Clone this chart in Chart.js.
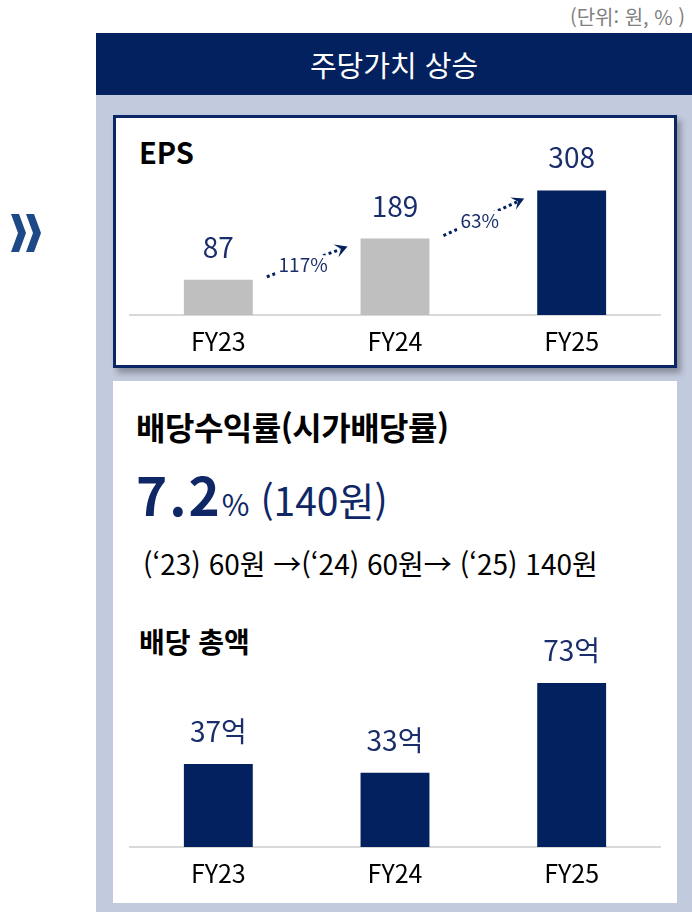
<html lang="ko">
<head>
<meta charset="UTF-8">
<title>주당가치 상승</title>
<script src="https://cdn.jsdelivr.net/npm/chart.js@4.4.1/dist/chart.umd.min.js"></script>
<style>
    body { margin: 0; width: 692px; height: 912px; overflow: hidden; background: #fff; position: relative;
           font-family: "Noto Sans CJK KR", "Noto Sans", sans-serif; }
    .abs { position: absolute; white-space: nowrap; line-height: 1; }
    .unit { right: 7px; top: 7px; font-size: 20px; color: #7f7f7f; }
    .panel { left: 96px; top: 33px; width: 600px; height: 880px; background: #c2cadd; }
    .header { left: 96px; top: 33px; width: 596px; height: 62px; background: #03215e; }
    .header span { position: absolute; left: 0; right: 0; top: 17px; text-align: center; color: #fff; font-size: 29px; }
    .box1 { left: 113px; top: 115px; width: 564px; height: 253px; box-sizing: border-box; background: #fff;
            border: 3px solid #0b2565; box-shadow: 4px 5px 6px rgba(0,0,0,0.3); }
    .box2 { left: 113px; top: 381px; width: 564px; height: 522px; background: #fff; }
    .title { font-weight: bold; color: #000; }
    .navy { color: #0f2765; }
    canvas { position: absolute; }
</style>
</head>
<body>

<div class="abs unit">(단위: 원, % )</div>
<svg class="abs" style="left:0;top:200px" width="60" height="70">
    <polygon points="11,14 19,14 26,33 19,52 11,52 18,33" fill="#1d4a86"/>
    <polygon points="26,14 34,14 41,33 34,52 26,52 33,33" fill="#1d4a86"/>
</svg>

<div class="abs panel"></div>
<div class="abs header"><span>주당가치 상승</span></div>

<div class="abs box1"></div>
<div class="abs title" style="left:139px;top:137px;font-size:29px">EPS</div>

<div class="abs box2"></div>
<div class="abs title" style="left:136px;top:410px;font-size:32px;letter-spacing:-0.5px">배당수익률(시가배당률)</div>
<div class="abs navy" style="left:136px;top:467px">
    <span style="font-size:53px;font-weight:bold;letter-spacing:2px">7.2</span><span style="font-size:30px">%</span><span style="font-size:39px"> (140원)</span>
</div>
<div class="abs" style="left:143px;top:549px;font-size:28px;color:#000">(‘23) 60원 →(‘24) 60원→ (‘25) 140원</div>
<div class="abs title" style="left:139px;top:627px;font-size:28px">배당 총액</div>

<canvas id="epsChart" width="564" height="240" style="left:113px;top:125px"></canvas>
<canvas id="divChart" width="564" height="300" style="left:113px;top:600px"></canvas>

<script>
const years = ['FY23', 'FY24', 'FY25'];
const epsValues = [87, 189, 308];
const epsLabels = ['87', '189', '308'];
const epsGrowth = ['117%', '63%'];
const dividendValues = [37, 33, 73];
const dividendLabels = ['37억', '33억', '73억'];

const NAVY = '#03215e';
const LABEL_NAVY = '#1a2e6c';
const GRAY = '#bfbfbf';

Chart.defaults.font.family = '"Noto Sans CJK KR", "Noto Sans", sans-serif';

// 막대 위 값 표시
function valueLabels(labels) {
    return {
        id: 'valueLabels',
        afterDatasetsDraw(chart) {
            const ctx = chart.ctx;
            ctx.save();
            ctx.font = '28px "Noto Sans CJK KR"';
            ctx.fillStyle = LABEL_NAVY;
            ctx.textAlign = 'center';
            ctx.textBaseline = 'alphabetic';
            chart.getDatasetMeta(0).data.forEach((bar, i) => {
                ctx.fillText(labels[i], bar.x, bar.y - 22);
            });
            ctx.restore();
        }
    };
}

// 성장률 점선 화살표
const growthArrows = {
    id: 'growthArrows',
    afterDatasetsDraw(chart) {
        const ctx = chart.ctx;
        const bars = chart.getDatasetMeta(0).data;
        ctx.save();
        for (let i = 0; i < bars.length - 1; i++) {
            const a = bars[i], b = bars[i + 1];
            const x1 = a.x + a.width / 2 + 14, y1 = a.y - 3;
            const x2 = b.x - b.width / 2 - 13, y2 = b.y + 8;
            const ang = Math.atan2(y2 - y1, x2 - x1);
            const dx = Math.cos(ang), dy = Math.sin(ang);

            ctx.strokeStyle = NAVY;
            ctx.lineWidth = 3;
            ctx.setLineDash([3, 3]);
            ctx.beginPath();
            ctx.moveTo(x1, y1);
            ctx.lineTo(x2 - dx * 8, y2 - dy * 8);
            ctx.stroke();
            ctx.setLineDash([]);

            // 화살촉
            const L = 14;
            const w1 = ang + Math.PI - 0.5, w2 = ang + Math.PI + 0.5;
            ctx.fillStyle = NAVY;
            ctx.beginPath();
            ctx.moveTo(x2, y2);
            ctx.lineTo(x2 + Math.cos(w1) * L, y2 + Math.sin(w1) * L);
            ctx.lineTo(x2 - dx * L * 0.5, y2 - dy * L * 0.5);
            ctx.lineTo(x2 + Math.cos(w2) * L, y2 + Math.sin(w2) * L);
            ctx.closePath();
            ctx.fill();

            // 텍스트
            const t = 0.45;
            const tx = x1 + (x2 - x1) * t, ty = y1 + (y2 - y1) * t + 2;
            ctx.font = '19px "Noto Sans CJK KR"';
            const tw = ctx.measureText(epsGrowth[i]).width;
            ctx.fillStyle = '#fff';
            ctx.fillRect(tx - tw / 2 - 3, ty - 10, tw + 6, 20);
            ctx.fillStyle = LABEL_NAVY;
            ctx.textAlign = 'center';
            ctx.textBaseline = 'middle';
            ctx.fillText(epsGrowth[i], tx, ty);
        }
        ctx.restore();
    }
};

function makeChart(id, values, colors, yMax, axisHeight, padTop, plugins) {
    return new Chart(document.getElementById(id), {
        type: 'bar',
        data: {
            labels: years,
            datasets: [{
                data: values,
                backgroundColor: colors,
                borderWidth: 0,
                barPercentage: 0.39,
                categoryPercentage: 1
            }]
        },
        options: {
            responsive: false,
            animation: false,
            layout: { padding: { left: 17, right: 17, top: padTop, bottom: 0 } },
            plugins: { legend: { display: false }, tooltip: { enabled: false } },
            scales: {
                x: {
                    grid: { display: false, drawTicks: false },
                    border: { color: '#d9d9d9', width: 2 },
                    ticks: { color: '#000', padding: 11, font: { size: 25 } },
                    afterFit(scale) { scale.height = axisHeight; }
                },
                y: { display: false, min: 0, max: yMax }
            }
        },
        plugins: plugins
    });
}

makeChart('epsChart', epsValues, [GRAY, GRAY, NAVY], 470, 50, 0,
    [valueLabels(epsLabels), growthArrows]);
makeChart('divChart', dividendValues, [NAVY, NAVY, NAVY], 87.7, 53, 50,
    [valueLabels(dividendLabels)]);
</script>
</body>
</html>
